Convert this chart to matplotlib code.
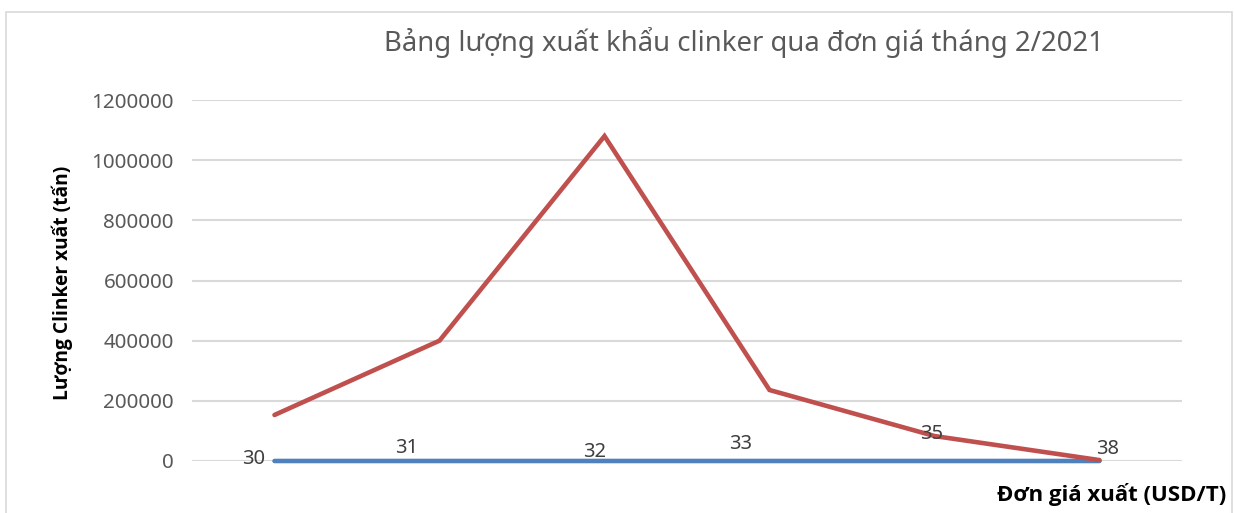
import matplotlib
matplotlib.use("Agg")
from matplotlib import pyplot as plt
from matplotlib.patches import Rectangle

plt.rcParams['font.family'] = ['Noto Sans', 'DejaVu Sans']

# data
don_gia = [30, 31, 32, 33, 35, 38]          # USD/T, first series (shown as labels)
luong_xuat = [153000, 400000, 1080000, 236000, 83000, 3000]   # tan
y_ticks = [0, 200000, 400000, 600000, 800000, 1000000, 1200000]

# label offsets in pixels (as they sit in the original chart)
label_offsets = [(-21, 2), (-33, 13), (-10, 9), (-29, 17), (-3, 27), (8, 12)]

fig = plt.figure(figsize=(12.34, 5.13), dpi=100)
fig.patch.set_facecolor('white')

# light chart border
fig.patches.append(Rectangle((6 / 1234, -0.01), 1226 / 1234, 1 - 12 / 513 + 0.01,
                             transform=fig.transFigure, fill=False,
                             edgecolor='#D9D9D9', linewidth=1.2))

ax = fig.add_axes([192 / 1234, 1 - 461 / 513, 990 / 1234, 361 / 513])
x = list(range(len(don_gia)))

ax.plot(x, don_gia, color='#4F81BD', linewidth=3.3, solid_capstyle='round',
        clip_on=False, zorder=3)
ax.plot(x, luong_xuat, color='#C0504D', linewidth=3.3, solid_capstyle='round',
        solid_joinstyle='miter', clip_on=False, zorder=4)

for xi, v, off in zip(x, don_gia, label_offsets):
    ax.annotate(str(v), (xi, v), xytext=off, textcoords='offset pixels',
                ha='center', va='center', fontsize=14.5, color='#404040', zorder=5)

ax.set_xlim(-0.5, len(don_gia) - 0.5)
ax.set_ylim(0, 1200000)
ax.set_yticks(y_ticks)
ax.set_yticklabels([str(t) for t in y_ticks])
ax.set_xticks([])
ax.tick_params(axis='y', length=0, pad=13, labelsize=14.8, labelcolor='#595959')
ax.grid(axis='y', color='#D9D9D9', linewidth=1.5)
ax.set_axisbelow(True)
for s in ax.spines.values():
    s.set_visible(False)

fig.text(744 / 1234, 1 - 42 / 513, 'Bảng lượng xuất khẩu clinker qua đơn giá tháng 2/2021',
         ha='center', va='center', fontsize=19.8, color='#595959')
fig.text(62 / 1234, 1 - 283 / 513, 'Lượng Clinker xuất (tấn)', rotation=90,
         ha='center', va='center', fontsize=13.8, fontweight='bold', color='black',
         family=['Open Sans', 'DejaVu Sans'])
fig.text(1226 / 1234, 1 - 494 / 513, 'Đơn giá xuất (USD/T)',
         ha='right', va='center', fontsize=16, fontweight='bold', color='black',
         family=['Open Sans', 'DejaVu Sans'])

plt.savefig('out.png', dpi=100)
